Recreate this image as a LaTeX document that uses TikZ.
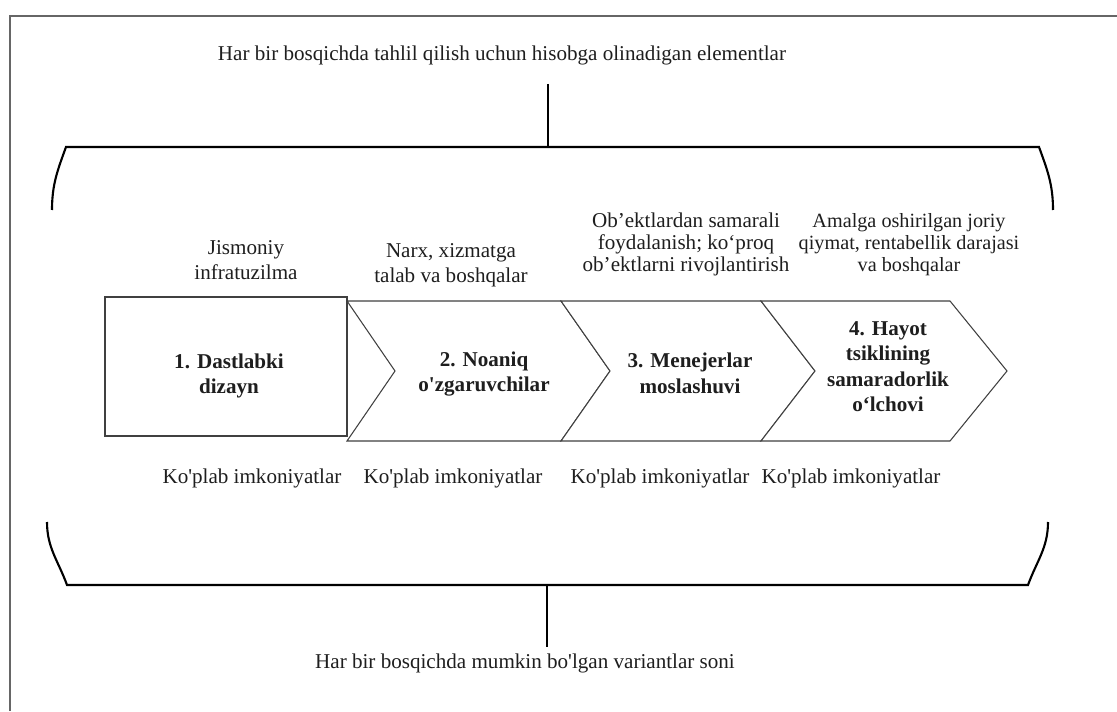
\documentclass[tikz,border=0pt]{standalone}
\usepackage{fontspec}
\setmainfont{Liberation Serif}
\usepackage{tikz}
\usetikzlibrary{positioning}
\definecolor{ink}{HTML}{1E1E1E}
\definecolor{rim}{HTML}{404040}
\definecolor{framegray}{HTML}{666666}
\newcommand{\ap}{\textquotesingle}
\tikzset{
  every node/.style={font=\fontsize{12}{14}\selectfont,text=ink},
  stagebox/.style={draw=rim,line width=0.6pt,fill=white},
  stagetext/.style={font=\fontsize{12}{14.5}\selectfont\bfseries,align=center,inner sep=1pt},
  note/.style={align=center,inner sep=1pt},
  tightnote/.style={note,font=\fontsize{12}{12.6}\selectfont},
  brace/.style={draw=black,line width=1.2pt},
  outline/.style={draw=framegray,line width=0.9pt},
}

\begin{document}
\begin{tikzpicture}[x=1cm,y=1cm]
  \useasboundingbox (0,0) rectangle (22.34,14.22);
  \draw[outline] (0.2,0) -- (0.2,13.90) -- (22.34,13.90);

  % top: elements to analyse
  \node[note] (toptext) at (10.04,13.12) {Har bir bosqichda tahlil qilish uchun hisobga olinadigan elementlar};
  \coordinate (tstem) at (10.96,12.54);
  \coordinate (tjoin) at (10.96,11.28);
  \draw[brace] (tstem) -- (tjoin);
  \draw[brace] (1.04,10.02) to[out=90,in=-110] (1.32,11.28) -- (20.78,11.28) to[out=-70,in=90] (21.06,10.02);

  % stages
  \draw[stagebox] (2.10,5.50) rectangle (6.94,8.28);
  \draw[stagebox] (6.94,8.20) -- (11.22,8.20) -- (12.20,6.80) -- (11.22,5.40) -- (6.94,5.40) -- (7.90,6.80) -- cycle;
  \draw[stagebox] (11.22,8.20) -- (15.22,8.20) -- (16.30,6.80) -- (15.22,5.40) -- (11.22,5.40) -- (12.20,6.80) -- cycle;
  \draw[stagebox] (15.22,8.20) -- (19.00,8.20) -- (20.14,6.80) -- (19.00,5.40) -- (15.22,5.40) -- (16.30,6.80) -- cycle;

  \node[stagetext] (s1) at (4.58,6.70) {1. Dastlabki\\dizayn};
  \node[stagetext] (s2) at (9.68,6.74) {2. Noaniq\\o\ap zgaruvchilar};
  \node[stagetext] (s3) at (13.80,6.75) {3. Menejerlar\\moslashuvi};
  \node[stagetext] (s4) at (17.76,6.89) {4. Hayot\\tsiklining\\samaradorlik\\o‘lchovi};

  \node[note] (u1) at (4.92,9.02) {Jismoniy\\infratuzilma};
  \node[note] (u2) at (9.02,8.91) {Narx, xizmatga\\talab va boshqalar};
  \node[tightnote] (u3) at (13.72,9.33) {Ob’ektlardan samarali\\foydalanish; ko‘proq\\ob’ektlarni rivojlantirish};
  \node[tightnote,font=\fontsize{11.5}{12.6}\selectfont] (u4) at (18.18,9.33) {Amalga oshirilgan joriy\\qiymat, rentabellik darajasi\\va boshqalar};

  \node[note] (l1) at (5.04,4.66) {Ko\ap plab imkoniyatlar};
  \node[note] (l2) at (9.06,4.66) {Ko\ap plab imkoniyatlar};
  \node[note] (l3) at (13.20,4.66) {Ko\ap plab imkoniyatlar};
  \node[note] (l4) at (17.02,4.66) {Ko\ap plab imkoniyatlar};

  % bottom: number of variants
  \draw[brace] (0.94,3.78) to[out=-90,in=110] (1.34,2.52) -- (20.56,2.52) to[out=70,in=-90] (20.96,3.78);
  \coordinate (bjoin) at (10.94,2.52);
  \coordinate (bstem) at (10.94,1.28);
  \draw[brace] (bjoin) -- (bstem);
  \node[note] (bottext) at (10.50,0.96) {Har bir bosqichda mumkin bo\ap lgan variantlar soni};
\end{tikzpicture}
\end{document}
